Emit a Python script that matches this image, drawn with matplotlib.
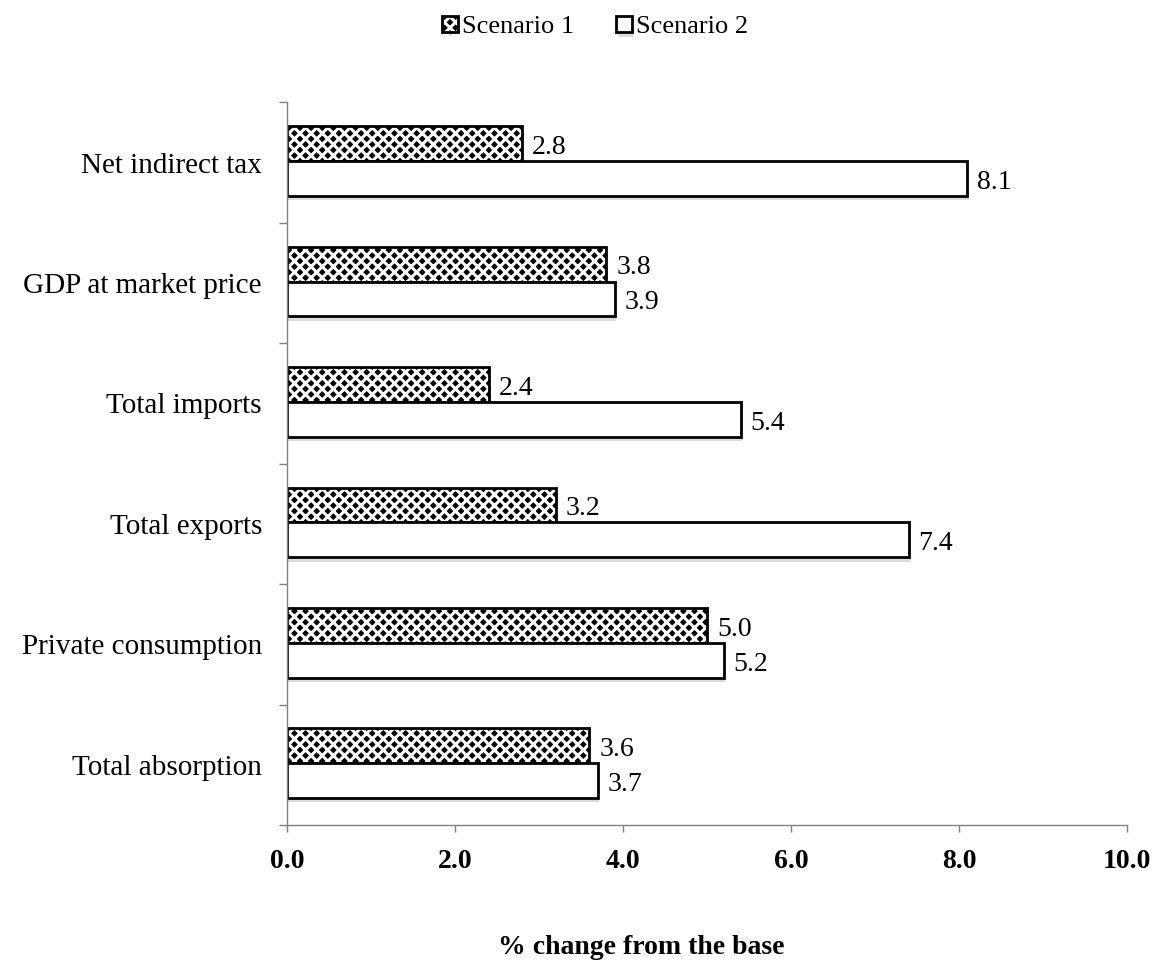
import numpy as np
import matplotlib
matplotlib.use('Agg')
import matplotlib.pyplot as plt
import matplotlib.patheffects as pe

plt.rcParams['font.family'] = ['Liberation Serif', 'DejaVu Serif']
plt.rcParams['hatch.linewidth'] = 2.2

categories = ['Total absorption', 'Private consumption', 'Total exports',
              'Total imports', 'GDP at market price', 'Net indirect tax']
scenario1 = [3.6, 5.0, 3.2, 2.4, 3.8, 2.8]
scenario2 = [3.7, 5.2, 7.4, 5.4, 3.9, 8.1]
xticks = [0.0, 2.0, 4.0, 6.0, 8.0, 10.0]

fig = plt.figure(figsize=(11.57, 9.65), dpi=100)
ax = fig.add_axes([0.248, 0.145, 0.726, 0.749])

y = np.arange(len(categories))
h = 0.29
off = 0.012
shadow = [pe.SimplePatchShadow(offset=(1, -3), shadow_rgbFace='#bbbbbb', alpha=0.5), pe.Normal()]

# scenario 1: black fill with white diagonal hatch -> black diamond dots
b1 = ax.barh(y + off + h / 2, scenario1, height=h, color='black', edgecolor='white',
             hatch='xxx', linewidth=0)
b1o = ax.barh(y + off + h / 2, scenario1, height=h, color='none', edgecolor='black', linewidth=2)
b2 = ax.barh(y + off - h / 2, scenario2, height=h, color='white', edgecolor='black',
             linewidth=2)
for bar in list(b1) + list(b2):
    bar.set_path_effects(shadow)

for yy, v in zip(y + off + h / 2, scenario1):
    ax.text(v + 0.12, yy - 0.03, f'{v:.1f}', va='center', ha='left', fontsize=20)
for yy, v in zip(y + off - h / 2, scenario2):
    ax.text(v + 0.12, yy - 0.03, f'{v:.1f}', va='center', ha='left', fontsize=20)

ax.set_xlim(0, 10)
ax.set_ylim(-0.5, len(categories) - 0.5)
ax.set_xticks(xticks)
ax.set_xticklabels([f'{t:.1f}' for t in xticks], fontsize=20, fontweight='bold')
ax.set_yticks(y)
ax.set_yticklabels(categories, fontsize=21)
ax.set_yticks(np.arange(-0.5, len(categories)), minor=True)
ax.tick_params(axis='y', which='major', length=0, pad=18)
ax.tick_params(axis='y', which='minor', length=6, color='#808080', width=1)
ax.tick_params(axis='x', length=5, color='#808080', width=1, pad=12)

for s in ['top', 'right']:
    ax.spines[s].set_visible(False)
for s in ['left', 'bottom']:
    ax.spines[s].set_color('#808080')
    ax.spines[s].set_linewidth(1)

fig.text(641 / 1157, 1 - 948 / 965, '% change from the base', fontsize=20,
         fontweight='bold', ha='center', va='center')

fig.legend(handles=[(b1, b1o), b2], labels=['Scenario 1', 'Scenario 2'], loc='center',
           bbox_to_anchor=(595 / 1157, 1 - 27 / 965), ncol=2,
           frameon=False, fontsize=19, handlelength=0.6, handleheight=0.6,
           handletextpad=0.15, columnspacing=1.6, borderpad=0)

fig.savefig('out.png', dpi=100)
